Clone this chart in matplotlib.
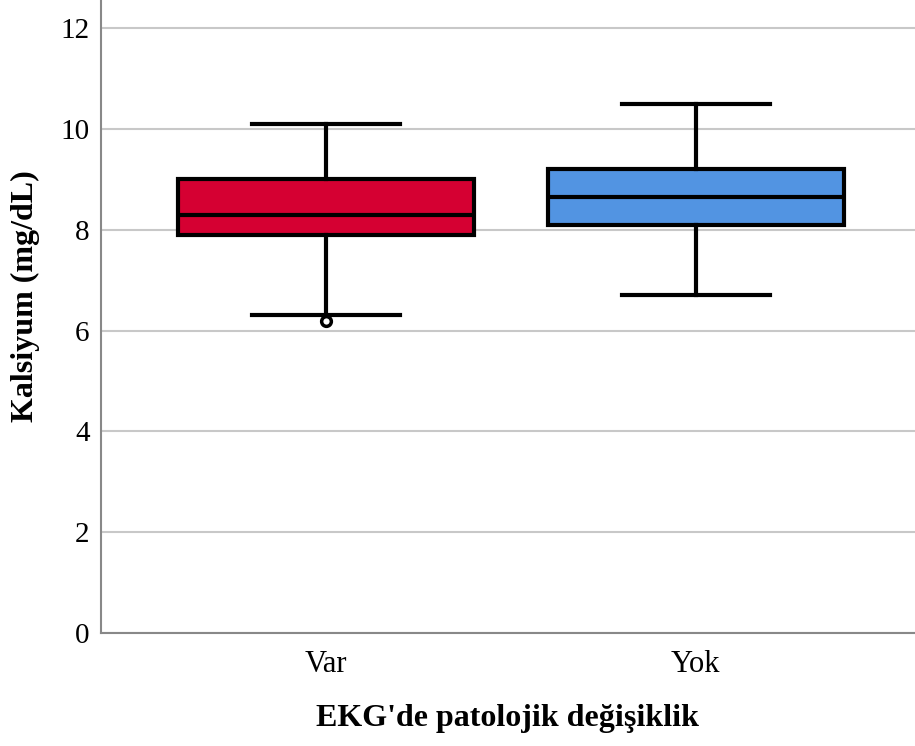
import matplotlib
matplotlib.use("Agg")
import matplotlib.pyplot as plt

categories = ["Var", "Yok"]
whislo = [6.3, 6.7]
q1 = [7.9, 8.1]
med = [8.3, 8.65]
q3 = [9.0, 9.2]
whishi = [10.1, 10.5]
fliers = [[6.2], []]
colors = ["#D50032", "#5294E2"]
yticks = [0, 2, 4, 6, 8, 10, 12]

plt.rcParams['font.family'] = ['Liberation Serif', 'DejaVu Serif']

fig = plt.figure(figsize=(9.15, 7.46), dpi=100)
ax = fig.add_axes([0.110, 0.1515, 0.89, 0.8485])

stats = []
for i, c in enumerate(categories):
    stats.append(dict(label=c, whislo=whislo[i], q1=q1[i], med=med[i],
                      q3=q3[i], whishi=whishi[i], fliers=fliers[i]))

bp = ax.bxp(stats, positions=[1, 2], widths=0.8, patch_artist=True,
            showfliers=True, capwidths=0.4,
            boxprops=dict(linewidth=3, edgecolor='black'),
            medianprops=dict(color='black', linewidth=3),
            whiskerprops=dict(color='black', linewidth=3),
            capprops=dict(color='black', linewidth=3),
            flierprops=dict(marker='o', markerfacecolor='white',
                            markeredgecolor='black', markersize=7,
                            markeredgewidth=2.5))
for patch, col in zip(bp['boxes'], colors):
    patch.set_facecolor(col)

ax.set_xlim(0.392, 2.592)
ax.set_ylim(0, 12.56)
ax.set_yticks(yticks)
ax.set_yticklabels([str(t) for t in yticks], fontsize=21)
ax.set_xticks([1, 2])
ax.set_xticklabels(categories, fontsize=22)
ax.yaxis.grid(True, color='#c8c8c8', linewidth=1.5)
ax.set_axisbelow(True)
ax.tick_params(axis='y', length=0, pad=8)
ax.tick_params(axis='x', length=0, pad=12)
for s in ['top', 'right']:
    ax.spines[s].set_visible(False)
for s in ['left', 'bottom']:
    ax.spines[s].set_color('#888888')
    ax.spines[s].set_linewidth(1.5)

ax.set_ylabel("Kalsiyum (mg/dL)", fontsize=23, fontweight='bold')
ax.yaxis.set_label_coords(-0.074, 0.532)
ax.set_xlabel("EKG'de patolojik değişiklik", fontsize=23, fontweight='bold', labelpad=18)

fig.savefig("out.png", dpi=100)
